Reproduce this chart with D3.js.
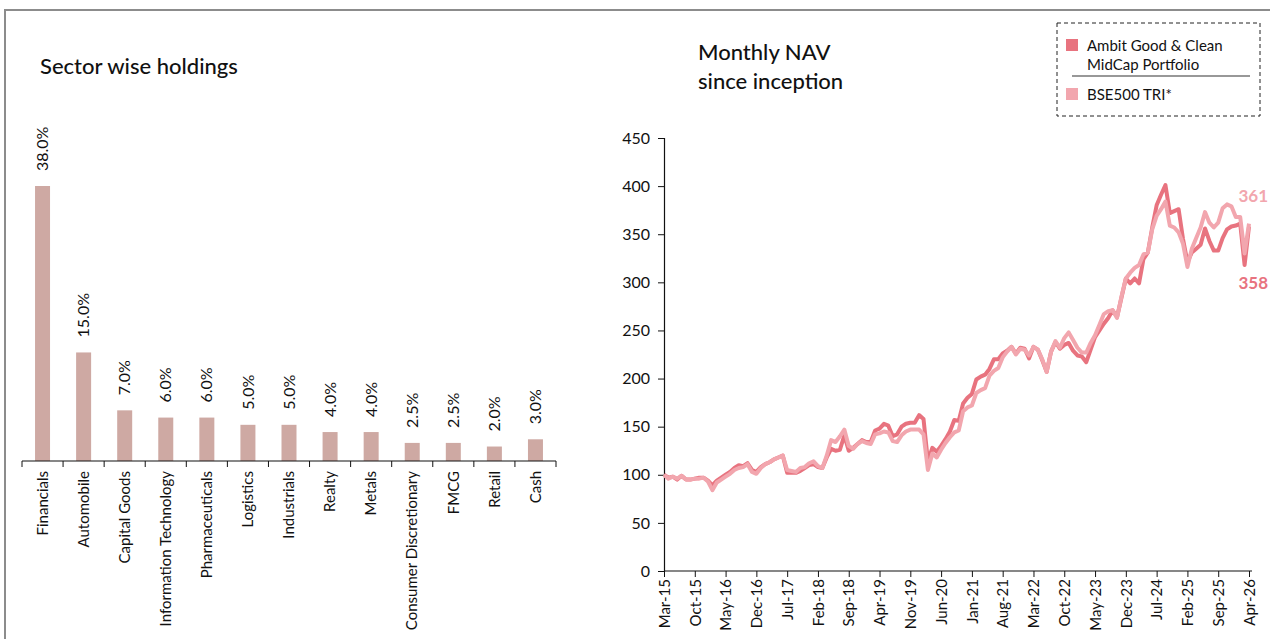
<!DOCTYPE html>
<html lang="en">
<head>
<meta charset="utf-8">
<title>Sector wise holdings / Monthly NAV</title>
<style>
  body { margin: 0; background: #fff; }
  svg { font-family: Lato, "Noto Sans", sans-serif; }
</style>
</head>
<body>
<script src="https://cdn.jsdelivr.net/npm/d3@7/dist/d3.min.js"></script>
<script>
// sector chart data
var sectors = ["Financials","Automobile","Capital Goods","Information Technology","Pharmaceuticals",
  "Logistics","Industrials","Realty","Metals","Consumer Discretionary","FMCG","Retail","Cash"];
var weights = [38.0, 15.0, 7.0, 6.0, 6.0, 5.0, 5.0, 4.0, 4.0, 2.5, 2.5, 2.0, 3.0];

// monthly NAV, Mar-15 .. Apr-26
var ambitNav = [100,97,98,95,99,95,95,96,97,97,94,89,94,97,100,103,107,110,109,112,
  105,103,108,111,113,116,118,120,102,102,102,104,107,110,111,108,107,118,127,125,
  126,141,125,128,132,136,134,134,146,148,153,151,140,142,150,153,154,154,162,158,
  114,128,124,130,137,145,157,156,174,180,184,199,202,204,210,220,220,226,229,233,
  226,232,231,221,233,230,219,207,228,238,231,235,237,229,224,223,217,230,243,250,
  257,263,271,264,284,304,299,304,299,324,331,357,380,391,401,372,374,376,345,321,
  331,335,339,356,343,333,333,346,355,358,359,361,318,358];
var bseNav = [100,96,98,96,99,95,95,96,96,97,93,84,92,95,98,101,105,107,108,111,
  103,101,107,111,113,116,118,120,105,104,103,107,108,112,114,109,107,120,136,134,
  140,147,130,127,132,135,133,132,142,143,145,144,135,134,141,145,147,147,147,142,
  105,122,118,126,133,139,144,146,166,170,172,185,188,190,203,208,211,222,228,233,
  225,231,230,224,233,230,220,207,228,239,232,242,248,240,232,227,227,237,245,256,
  267,270,271,263,285,304,310,315,318,329,331,355,369,376,384,359,357,352,340,316,
  335,346,357,373,362,357,362,377,381,379,368,368,330,361];
var xTickLabels = ["Mar-15","Oct-15","May-16","Dec-16","Jul-17","Feb-18","Sep-18","Apr-19","Nov-19","Jun-20",
  "Jan-21","Aug-21","Mar-22","Oct-22","May-23","Dec-23","Jul-24","Feb-25","Sep-25","Apr-26"];
var yTicks = [0,50,100,150,200,250,300,350,400,450];

var W = 1270, H = 639;
var barColor = "#cea9a3", ambitColor = "#e8737f", bseColor = "#f2a6ae";

var svg = d3.select("body").append("svg").attr("width", W).attr("height", H);

// outer frame
svg.append("rect").attr("x", 5).attr("y", 10).attr("width", W + 20).attr("height", H + 20)
  .attr("fill", "none").attr("stroke", "#8c8c8c").attr("stroke-width", 2);

// ---------- left: sector bars ----------
svg.append("text").attr("x", 40).attr("y", 74).attr("font-size", 22).attr("font-weight", 500)
  .attr("fill", "#111").text("Sector wise holdings");

var xb = d3.scaleBand().domain(sectors).range([22, 556]).paddingInner(0).paddingOuter(0);
var yb = d3.scaleLinear().domain([0, 38]).range([461, 186]);
var barW = 15;

svg.selectAll("rect.bar").data(sectors).enter().append("rect").attr("class", "bar")
  .attr("x", function(d){ return xb(d) + xb.bandwidth()/2 - barW/2; })
  .attr("y", function(d, i){ return yb(weights[i]); })
  .attr("width", barW)
  .attr("height", function(d, i){ return yb(0) - yb(weights[i]); })
  .attr("fill", barColor);

svg.selectAll("text.val").data(sectors).enter().append("text").attr("class", "val")
  .attr("transform", function(d, i){
    return "translate(" + (xb(d) + xb.bandwidth()/2) + "," + (yb(weights[i]) - 15) + ") rotate(-90)";
  })
  .attr("dy", "0.35em").attr("font-size", 16).attr("fill", "#111")
  .text(function(d, i){ return weights[i].toFixed(1) + "%"; });

var gb = svg.append("g").attr("transform", "translate(0," + yb(0) + ")");
gb.append("line").attr("x1", 22).attr("x2", 556).attr("stroke", "#111").attr("stroke-width", 1.2);
gb.selectAll("line.tk").data(sectors.concat(["end"])).enter().append("line").attr("class", "tk")
  .attr("x1", function(d, i){ return 22 + i * xb.step(); })
  .attr("x2", function(d, i){ return 22 + i * xb.step(); })
  .attr("y1", 0).attr("y2", 6).attr("stroke", "#111");
gb.selectAll("text").data(sectors).enter().append("text")
  .attr("transform", function(d){ return "translate(" + (xb(d) + xb.bandwidth()/2) + ",10) rotate(-90)"; })
  .attr("dy", "0.35em").attr("text-anchor", "end").attr("font-size", 15).attr("fill", "#111")
  .text(function(d){ return d; });

// ---------- right: NAV lines ----------
svg.append("text").attr("x", 698).attr("y", 60).attr("font-size", 22).attr("font-weight", 500)
  .attr("fill", "#111").text("Monthly NAV");
svg.append("text").attr("x", 698).attr("y", 89).attr("font-size", 22).attr("font-weight", 500)
  .attr("fill", "#111").text("since inception");

var n = ambitNav.length;
var x = d3.scaleLinear().domain([0, n - 1]).range([664, 1249]);
var y = d3.scaleLinear().domain([0, 450]).range([571, 138]);

var yAxis = svg.append("g").attr("transform", "translate(664,0)")
  .call(d3.axisLeft(y).tickValues(yTicks).tickSize(6).tickPadding(8));
var xAxis = svg.append("g").attr("transform", "translate(0,571)")
  .call(d3.axisBottom(x).tickValues(d3.range(0, n, 7)).tickSize(6)
    .tickFormat(function(d, i){ return xTickLabels[i]; }));
[yAxis, xAxis].forEach(function(g){
  g.select(".domain").attr("stroke", "#111").attr("stroke-width", 1.2);
  g.selectAll(".tick line").attr("stroke", "#111");
  g.selectAll("text").attr("font-size", 15).attr("fill", "#111").attr("font-family", "Lato, sans-serif");
});
yAxis.selectAll("text").attr("font-size", 16);
xAxis.select(".domain").attr("d", "M664,0H1252");
xAxis.selectAll(".tick text").attr("transform", "rotate(-90)").attr("text-anchor", "end")
  .attr("x", -8).attr("y", 0).attr("dy", "0.35em");

var line = d3.line().x(function(d, i){ return x(i); }).y(function(d){ return y(d); });
svg.append("path").datum(ambitNav).attr("d", line).attr("fill", "none")
  .attr("stroke", ambitColor).attr("stroke-width", 4).attr("stroke-linejoin", "round");
svg.append("path").datum(bseNav).attr("d", line).attr("fill", "none")
  .attr("stroke", bseColor).attr("stroke-width", 4).attr("stroke-linejoin", "round");

svg.append("text").attr("x", W - 2).attr("y", y(bseNav[n - 1]) - 22).attr("text-anchor", "end")
  .attr("font-size", 17).attr("font-weight", 700).attr("fill", bseColor).text(bseNav[n - 1]);
svg.append("text").attr("x", W - 2).attr("y", y(ambitNav[n - 1]) + 62).attr("text-anchor", "end")
  .attr("font-size", 17).attr("font-weight", 700).attr("fill", ambitColor).text(ambitNav[n - 1]);

// legend
var lg = svg.append("g");
lg.append("rect").attr("x", 1057).attr("y", 23).attr("width", 203).attr("height", 93)
  .attr("fill", "#fff").attr("stroke", "#222").attr("stroke-width", 1).attr("stroke-dasharray", "4,3");
lg.append("rect").attr("x", 1066).attr("y", 39).attr("width", 12).attr("height", 12).attr("fill", ambitColor);
lg.append("text").attr("x", 1087).attr("y", 51).attr("font-size", 15).attr("fill", "#111").text("Ambit Good & Clean");
lg.append("text").attr("x", 1087).attr("y", 70).attr("font-size", 15).attr("fill", "#111").text("MidCap Portfolio");
lg.append("line").attr("x1", 1072).attr("x2", 1250).attr("y1", 76).attr("y2", 76).attr("stroke", "#333").attr("stroke-width", 1.2);
lg.append("rect").attr("x", 1066).attr("y", 88).attr("width", 12).attr("height", 12).attr("fill", bseColor);
lg.append("text").attr("x", 1087).attr("y", 100).attr("font-size", 15).attr("fill", "#111").text("BSE500 TRI*");
</script>
</body>
</html>
